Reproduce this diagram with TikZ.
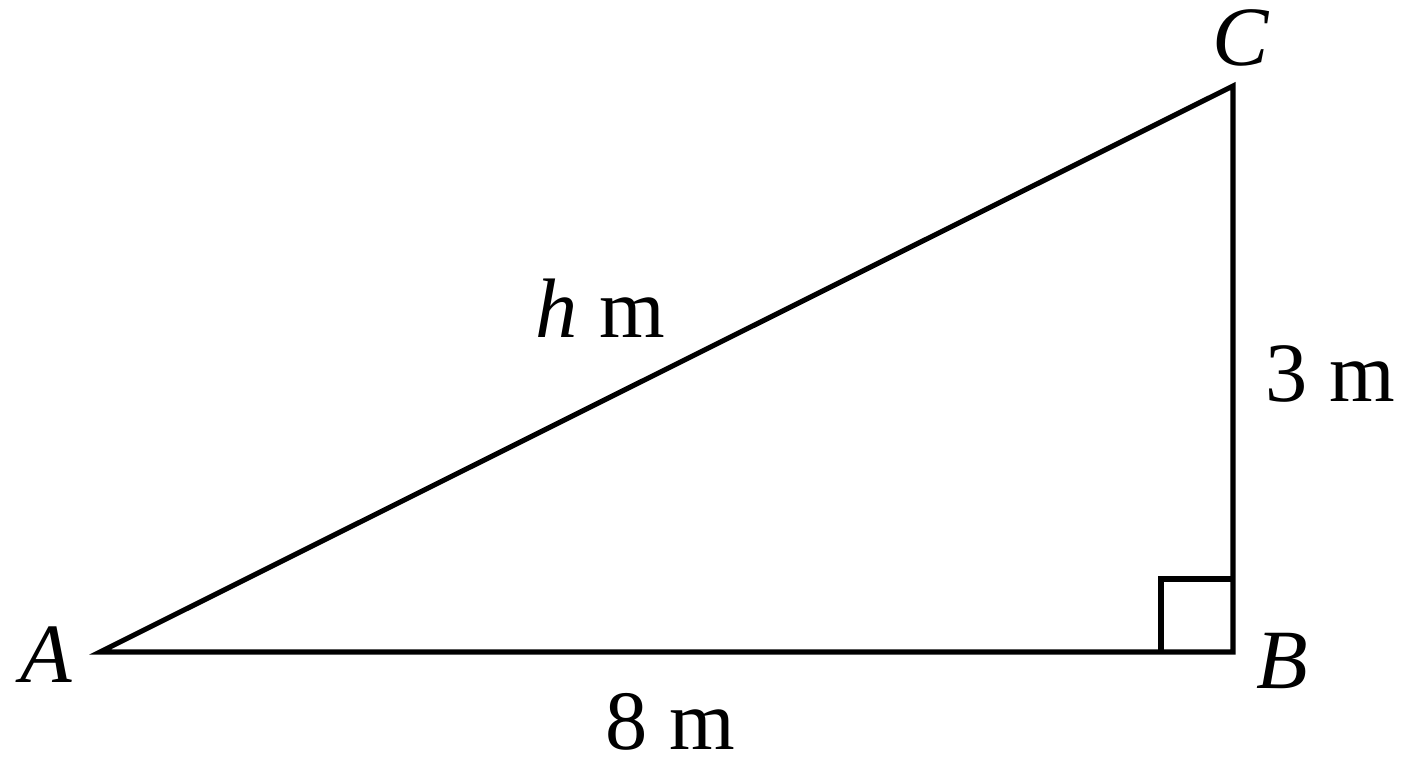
\documentclass[tikz,border=0pt]{standalone}
\usepackage{fontspec}
\setmainfont{Liberation Serif}
\begin{document}
\begin{tikzpicture}[x=0.01cm,y=-0.01cm,
  edge/.style={line width=1.45pt,line join=miter},
  lbl/.style={anchor=base west,inner sep=0pt,font=\fontsize{24}{29}\selectfont}]
\useasboundingbox (0,0) rectangle (1408,768);
\coordinate (A) at (100,652);
\coordinate (B) at (1233,652);
\coordinate (C) at (1233,86);
\coordinate (S1) at (1161,652);
\coordinate (S2) at (1161,579);
\coordinate (S3) at (1233,579);
\draw[edge] (A) -- (B) -- (C) -- cycle;
\draw[edge] (S1) -- (S2) -- (S3);
\node[lbl] (lA) at (20,683) {\textit{A}};
\node[lbl] (lB) at (1256,689) {\textit{B}};
\node[lbl] (lC) at (1212,66) {\textit{C}};
\node[lbl] (lh) at (535,338) {\textit{h} m};
\node[lbl] (l3) at (1265,402) {3 m};
\node[lbl] (l8) at (605,750) {8 m};
\end{tikzpicture}
\end{document}
